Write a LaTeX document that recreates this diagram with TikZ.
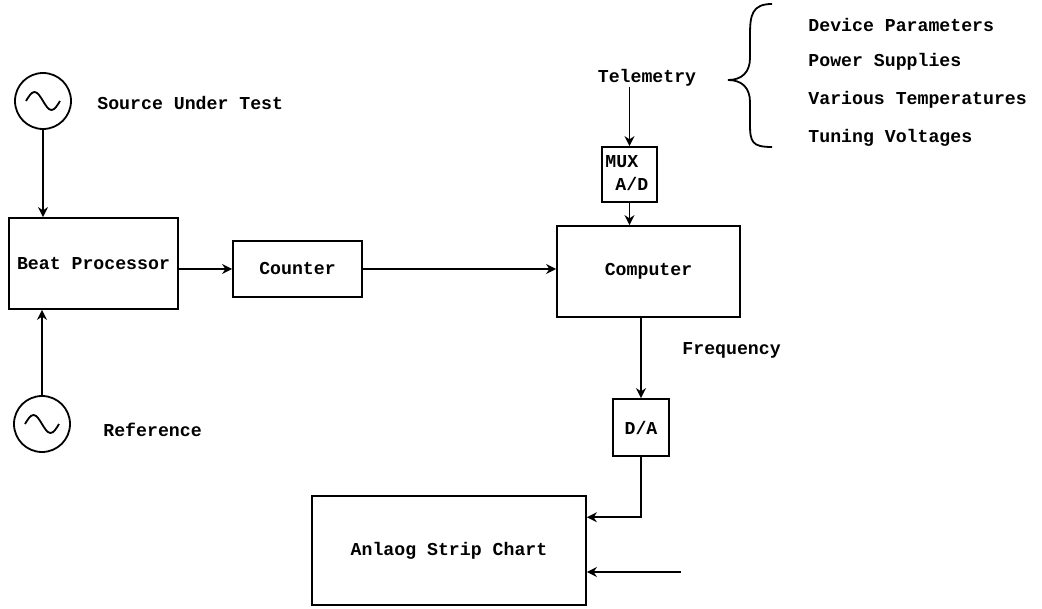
\documentclass[tikz,border=0pt]{standalone}
\usepackage{fontspec}
\setmainfont{Liberation Mono}
\usepackage{tikz}
\usetikzlibrary{arrows.meta, positioning, calc}
\newcommand\lblfont{\fontsize{9.1}{11}\selectfont\bfseries}
\tikzset{
  % block styles
  box/.style={rectangle, draw=black, line width=0.9pt, text centered, font=\lblfont, minimum width=#1},
  src/.style={circle, draw=black, line width=0.9pt, minimum size=28pt, inner sep=0pt},
  lbl/.style={font=\lblfont, inner sep=0pt},
  arrow/.style={-{Stealth[length=5pt, width=5pt]}, line width=0.9pt},
}
\begin{document}
\begin{tikzpicture}[x=0.5pt, y=-0.5pt]
    \useasboundingbox (0,0) rectangle (1042,609);
    % Sources
    \node[src] (sut) at (43,101) {};
    \node[src] (ref) at (42,424) {};
    \foreach \n in {sut, ref} {
      \draw[line width=0.9pt] ([xshift=-8.5pt]\n.center) sin +(8.5,-9) cos +(8.5,9) sin +(8.5,9) cos +(8.5,-9);
    }
    \node[lbl, anchor=west] (sutlbl) at (97,103) {Source Under Test};
    \node[lbl, anchor=west] (reflbl) at (103,430) {Reference};
    % Blocks
    \node[box=84.5pt, minimum height=45.5pt] (beat) at (93.5,263.5) {Beat Processor};
    \node[box=64.5pt, minimum height=28pt] (counter) at (297.5,269) {Counter};
    \node[box=91.5pt, minimum height=45.5pt] (comp) at (648.5,271.5) {Computer};
    \node[box=27.5pt, minimum height=27.5pt] (mux) at (629.5,174.5) {};
    \node[lbl, anchor=west] (muxlbl) at (605,162) {MUX};
    \node[lbl, anchor=west] (adlbl) at (615,184) {A/D};
    \node[box=28pt, minimum height=28.5pt] (da) at (641,427.5) {D/A};
    \node[box=137pt, minimum height=54.5pt] (chart) at (449,550.5) {Anlaog Strip Chart};
    % Telemetry and its inputs
    \node[lbl] (tel) at (647,78) {Telemetry};
    \draw[line width=0.9pt] (772,4) .. controls (752,4) and (750,15) .. (750,35) -- (750,58)
      .. controls (750,72) and (742,80) .. (728,80)
      .. controls (742,80) and (750,88) .. (750,102) -- (750,124)
      .. controls (750,142) and (752,147) .. (772,147);
    \foreach \t/\y in {Device Parameters/25, Power Supplies/62, Various Temperatures/100, Tuning Voltages/138} {
      \node[lbl, anchor=west] at (808,\y) {\t};
    }
    \node[lbl, anchor=west] (freq) at (682,350) {Frequency};
    % Connectors
    \draw[arrow] (sut) -- (sut |- beat.north);
    \draw[arrow] (ref) -- (ref |- beat.south);
    \draw[arrow] (beat.east |- counter.west) -- (counter.west);
    \draw[arrow] (counter.east) -- (counter.east -| comp.west);
    \draw[arrow] (tel.south -| mux.north) -- (mux.north);
    \draw[arrow] (mux.south) -- (mux.south |- comp.north);
    \draw[arrow] (da.north |- comp.south) -- (da.north);
    \draw[arrow] (da.south) |- ($(chart.north east)!0.2!(chart.south east)$);
    \coordinate (aux) at (681,572);
    \draw[arrow] (aux) -- (aux -| chart.east);
  \end{tikzpicture}
\end{document}
